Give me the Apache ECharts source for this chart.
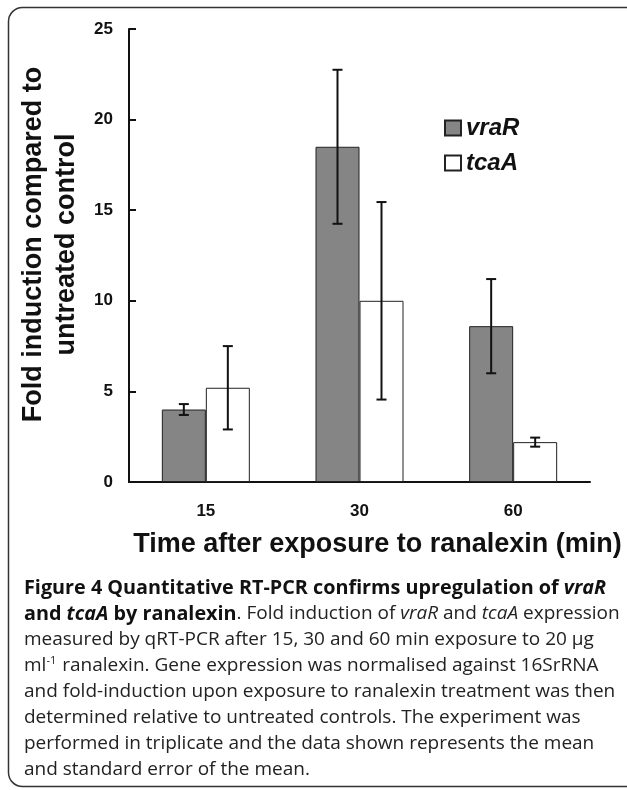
<!DOCTYPE html>
<html>
<head>
<meta charset="utf-8">
<script src="https://cdn.jsdelivr.net/npm/echarts@6/dist/echarts.min.js"></script>
<style>
html,body{margin:0;padding:0;background:#fff;}
#c{width:627px;height:790px;}
</style>
</head>
<body>
<div id="c"></div>
<script>
// ---- data ----
const categories = ['15', '30', '60'];
const vraR = [4.0, 18.5, 8.6];
const tcaA = [5.2, 10.0, 2.2];
const vraRErr = [0.3, 4.25, 2.6];
const tcaAErr = [2.3, 5.45, 0.25];
const yTicks = { min: 0, max: 25, interval: 5 };
const seriesNames = ['vraR', 'tcaA'];
const xName = 'Time after exposure to ranalexin (min)';
const yName = 'Fold induction compared to\nuntreated control';

const AX = 'Liberation Sans, Arial, sans-serif';
const CAP = '"Open Sans", sans-serif';
const CAP_R = 19;
const CAP_B = 19.8;
const BAR_W = 44;

function errData(vals, errs) {
  return vals.map((v, i) => [i, v - errs[i], v + errs[i]]);
}
function errSeries(name, vals, errs, offset) {
  return {
    type: 'custom',
    name: name + ' err',
    z: 10,
    silent: true,
    data: errData(vals, errs),
    renderItem: function (params, api) {
      const lo = api.coord([api.value(0), api.value(1)]);
      const hi = api.coord([api.value(0), api.value(2)]);
      const x = lo[0] + offset;
      const cap = 5;
      const st = { stroke: '#111', lineWidth: 2 };
      return {
        type: 'group',
        children: [
          { type: 'line', shape: { x1: x, y1: lo[1], x2: x, y2: hi[1] }, style: st },
          { type: 'line', shape: { x1: x - cap, y1: lo[1], x2: x + cap, y2: lo[1] }, style: st },
          { type: 'line', shape: { x1: x - cap, y1: hi[1], x2: x + cap, y2: hi[1] }, style: st }
        ]
      };
    }
  };
}

const chart = echarts.init(document.getElementById('c'), null, { renderer: 'canvas' });
chart.setOption({
  animation: false,
  backgroundColor: '#fff',
  grid: { left: 129, right: 37, top: 29, bottom: 308, containLabel: false },
  legend: {
    orient: 'vertical',
    left: 439,
    top: 111,
    itemWidth: 16,
    itemHeight: 15,
    itemGap: 11,
    icon: 'rect',
    data: seriesNames,
    textStyle: { fontFamily: AX, fontSize: 24, fontWeight: 'bold', fontStyle: 'italic', color: '#111', lineHeight: 24 }
  },
  xAxis: {
    type: 'category',
    data: categories,
    axisLine: { lineStyle: { color: '#111', width: 2 } },
    axisTick: { inside: true, length: 6, lineStyle: { color: '#111', width: 2 } },
    axisLabel: { margin: 21, fontFamily: AX, fontSize: 17, fontWeight: 'bold', color: '#111' },
    name: xName,
    nameLocation: 'middle',
    nameGap: 49,
    nameTextStyle: { fontFamily: AX, fontSize: 27, fontWeight: 'bold', color: '#111', padding: [0, 0, 0, 36] }
  },
  yAxis: {
    type: 'value',
    min: yTicks.min,
    max: yTicks.max,
    interval: yTicks.interval,
    splitLine: { show: false },
    axisLine: { show: true, lineStyle: { color: '#111', width: 2 } },
    axisTick: { show: true, inside: true, length: 7, lineStyle: { color: '#111', width: 2 } },
    axisLabel: { margin: 16, fontFamily: AX, fontSize: 17, fontWeight: 'bold', color: '#111' },
    name: yName,
    nameLocation: 'middle',
    nameRotate: 90,
    nameGap: 40,
    nameTextStyle: { fontFamily: AX, fontSize: 27, fontWeight: 'bold', color: '#111', lineHeight: 33, padding: [0, 0, 0, 22] }
  },
  series: [
    {
      type: 'bar', name: seriesNames[0], data: vraR, barWidth: BAR_W, barGap: '0%',
      itemStyle: { color: '#858585', borderColor: '#222', borderWidth: 1 }
    },
    {
      type: 'bar', name: seriesNames[1], data: tcaA, barWidth: BAR_W, barGap: '0%',
      itemStyle: { color: '#ffffff', borderColor: '#222', borderWidth: 1 }
    },
    errSeries(seriesNames[0], vraR, vraRErr, -BAR_W / 2),
    errSeries(seriesNames[1], tcaA, tcaAErr, BAR_W / 2)
  ],
  graphic: [
    {
      type: 'rect',
      shape: { x: 8.5, y: 7.5, width: 660, height: 779, r: 14 },
      style: { fill: 'none', stroke: '#333', lineWidth: 1.5 },
      silent: true
    },
    {
      type: 'text',
      left: 24,
      top: 575,
      style: {
        text: [
          '{b|Figure 4 Quantitative RT-PCR confirms upregulation of }{bi|vraR}',
          '{b|and }{bi|tcaA}{b| by ranalexin}{r|. Fold induction of }{i|vraR}{r| and }{i|tcaA}{r| expression}',
          '{r|measured by qRT-PCR after 15, 30 and 60 min exposure to 20 µg}',
          '{r|ml}{sup|-1}{r| ranalexin. Gene expression was normalised against 16SrRNA}',
          '{r|and fold-induction upon exposure to ranalexin treatment was then}',
          '{r|determined relative to untreated controls. The experiment was}',
          '{r|performed in triplicate and the data shown represents the mean}',
          '{r|and standard error of the mean.}'
        ].join('\n'),
        fill: '#222',
        font: CAP_R + 'px ' + CAP,
        lineHeight: 26,
        rich: {
          b: { fontFamily: CAP, fontSize: CAP_B, fontWeight: 'bold', fill: '#111', lineHeight: 26 },
          bi: { fontFamily: CAP, fontSize: CAP_B, fontWeight: 'bold', fontStyle: 'italic', fill: '#111', lineHeight: 26 },
          r: { fontFamily: CAP, fontSize: CAP_R, fill: '#222', lineHeight: 26 },
          i: { fontFamily: CAP, fontSize: CAP_R, fontStyle: 'italic', fill: '#222', lineHeight: 26 },
          sup: { fontFamily: CAP, fontSize: 11, fill: '#222', lineHeight: 26, verticalAlign: 'top', padding: [2, 1, 0, 0] }
        }
      }
    }
  ]
});
</script>
</body>
</html>
